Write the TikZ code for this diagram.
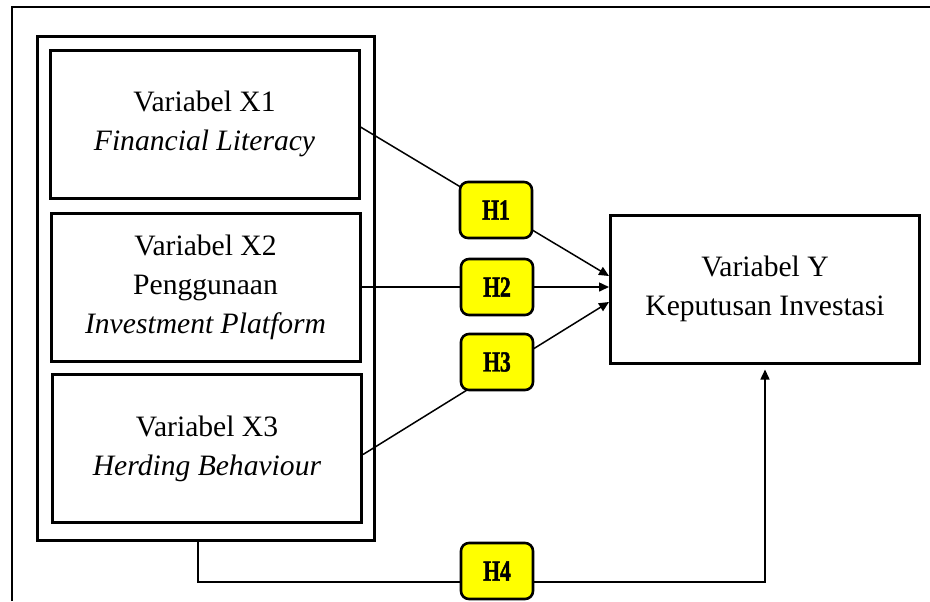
\documentclass[tikz,border=0pt]{standalone}
\usepackage{fontspec}
\setmainfont{Liberation Serif}
\newfontfamily\hfont[FakeStretch=0.74,FakeBold=1.5]{Liberation Serif}
\usetikzlibrary{arrows.meta}
\definecolor{hyellow}{RGB}{255,255,0}
\begin{document}
\begin{tikzpicture}[x=0.5pt,y=-0.5pt,
  varbox/.style={draw, line width=1.5pt, minimum width=154.5pt, minimum height=74pt,
    align=center, font=\fontsize{14.8}{19.5}\selectfont, inner sep=0pt},
  hbox/.style={draw, line width=1.3pt, fill=hyellow, rounded corners=4pt,
    minimum width=36pt, minimum height=28pt, inner sep=0pt,
    font=\hfont\bfseries\fontsize{14.5}{14.5}\selectfont},
  conn/.style={line width=0.75pt},
  arr/.style={conn, -{Triangle[length=5pt,width=4.5pt]}}]
\useasboundingbox (0,0) rectangle (930,601);
% outer frame (partially visible)
\draw[line width=1.4pt] (12,601) -- (12,7) -- (930,7);
% container
\node[draw, line width=1.5pt, minimum width=168.5pt, minimum height=252pt, inner sep=0pt]
  (cont) at (205.5,288) {};
\node[varbox] (X1) at (204.5,124) {Variabel X1\\\textit{Financial Literacy}};
\node[varbox] (X2) at (205.5,287) {Variabel X2\\Penggunaan\\\textit{Investment Platform}};
\node[varbox] (X3) at (207,448.5) {Variabel X3\\\textit{Herding Behaviour}};
\node[varbox] (Y) at (765,289) {Variabel Y\\Keputusan Investasi};
% connectors
\coordinate (t1) at ([yshift=6.5pt]Y.west);
\coordinate (t2) at (X2.east -| Y.west);
\coordinate (t3) at ([yshift=-6.5pt]Y.west);
\draw[arr] ([yshift=-1.5pt]X1.east) -- (t1);
\draw[arr] (X2.east) -- (t2);
\draw[arr] ([yshift=-3pt]X3.east) -- (t3);
\coordinate (b4) at ([xshift=-3.75pt]cont.south);
\coordinate (k4) at (b4 |- 0,582);
\draw[arr, shorten >=2.5pt] (b4) -- (k4) -| (Y.south);
% hypothesis labels
\node[hbox] (H1) at (496,210) {H1};
\node[hbox] (H2) at (497,287) {H2};
\node[hbox] (H3) at (497,362) {H3};
\node[hbox] (H4) at (497,571) {H4};
\end{tikzpicture}
\end{document}
